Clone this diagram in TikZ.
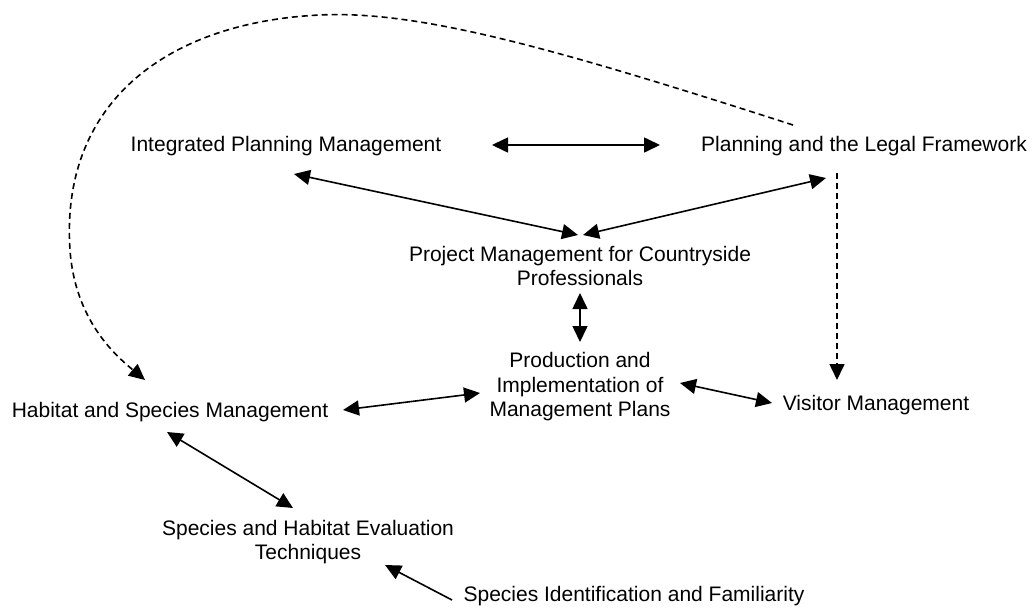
\documentclass[tikz,border=0pt]{standalone}
\usepackage{fontspec}
\setmainfont{Liberation Sans}
\usetikzlibrary{positioning, arrows.meta}

\tikzset{
	topic/.style={inner sep=0pt, align=center, font=\fontsize{21}{24.5}\selectfont},
	link/.style={line width=1.6pt, {Triangle[length=16pt,width=15pt]}-{Triangle[length=16pt,width=15pt]}},
	onelink/.style={line width=1.6pt, -{Triangle[length=16pt,width=15pt]}},
	dashlink/.style={onelink, dash pattern=on 6pt off 4pt}
}

\begin{document}
\begin{tikzpicture}[x=1pt, y=-1pt]
		
		\useasboundingbox (0,0) rectangle (1035,610);
		
		%Topics
		\node[topic] (ipm) at (286,146) {Integrated Planning Management};
		\node[topic] (plf) at (864,146) {Planning and the Legal Framework};
		\node[topic] (pmc) at (580,266) {Project Management for Countryside\\Professionals};
		\node[topic] (pim) at (580,387) {Production and\\Implementation of\\Management Plans};
		\node[topic] (vis) at (876,405) {Visitor Management};
		\node[topic] (hsm) at (170,412) {Habitat and Species Management};
		\node[topic] (she) at (308,542) {Species and Habitat Evaluation\\Techniques};
		\node[topic] (sif) at (634,596) {Species Identification and Familiarity};
		
		%Links
		\draw[link] ([shift={(206,-1)}]ipm.center) -- ([shift={(-204,-1)}]plf.center);
		\draw[link] ([shift={(8,28)}]ipm.center) -- ([shift={(-2,-31)}]pmc.center);
		\draw[link] ([shift={(-38,32)}]plf.center) -- ([shift={(3,-31)}]pmc.center);
		\draw[link] ([shift={(0,27)}]pmc.center) -- ([shift={(0,-45)}]pim.center);
		\draw[link] ([shift={(-100,6)}]pim.center) -- ([shift={(173,-2)}]hsm.center);
		\draw[link] ([shift={(100,-4)}]pim.center) -- ([shift={(-104,-2)}]vis.center);
		\draw[link] ([shift={(-3,20)}]hsm.center) -- ([shift={(-15,-34)}]she.center);
		\draw[onelink] ([shift={(-182,4)}]sif.center) -- ([shift={(77,23)}]she.center);
		
		%Dashed links
		\draw[dashlink] ([shift={(-27,27)}]plf.center) -- ([shift={(-39,-25)}]vis.center);
		\draw[dashlink] ([shift={(-71,-21)}]plf.center) .. controls (560,50) and (420,10) .. (320,15)
		.. controls (170,22) and (60,100) .. (70,250) .. controls (75,320) and (115,355) .. ([shift={(-25,-32)}]hsm.center);
		
\end{tikzpicture}
\end{document}
